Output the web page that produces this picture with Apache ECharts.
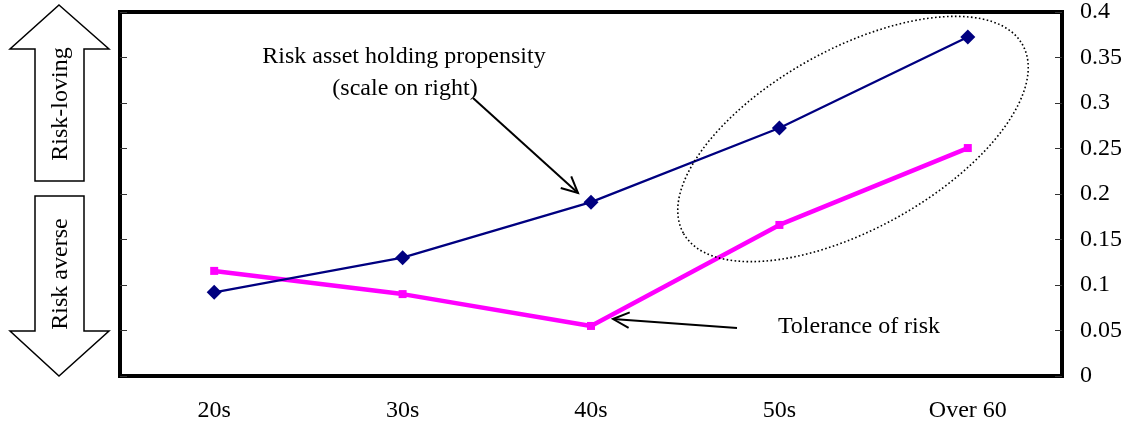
<!DOCTYPE html>
<html>
<head>
<meta charset="utf-8">
<script src="https://cdn.jsdelivr.net/npm/echarts@6/dist/echarts.min.js"></script>
<style>
html,body{margin:0;padding:0;background:#fff;}
#chart{width:1129px;height:428px;}
</style>
</head>
<body>
<div id="chart"></div>
<script>
const categories = ['20s', '30s', '40s', '50s', 'Over 60'];
const riskAssetPropensity = [0.092, 0.130, 0.191, 0.2725, 0.3725];
const toleranceOfRisk = [0.1155, 0.090, 0.055, 0.166, 0.2505];
const yTicks = [0, 0.05, 0.1, 0.15, 0.2, 0.25, 0.3, 0.35, 0.4];

const FONT = '"Liberation Serif", "Times New Roman", serif';
const FS = 24;

function arrow(x1, y1, x2, y2, len, ang) {
  const a = Math.atan2(y2 - y1, x2 - x1);
  const p1 = [x2 - len * Math.cos(a - ang), y2 - len * Math.sin(a - ang)];
  const p2 = [x2 - len * Math.cos(a + ang), y2 - len * Math.sin(a + ang)];
  return [
    { type: 'line', shape: { x1: x1, y1: y1, x2: x2, y2: y2 }, style: { stroke: '#000', lineWidth: 2 } },
    { type: 'polyline', shape: { points: [p1, [x2, y2], p2] }, style: { stroke: '#000', lineWidth: 2, fill: null } }
  ];
}

const chart = echarts.init(document.getElementById('chart'), null, { renderer: 'canvas' });

const yAxisCommon = {
  type: 'value',
  min: yTicks[0],
  max: yTicks[yTicks.length - 1],
  interval: 0.05,
  splitLine: { show: false },
  axisLine: { show: false },
  axisTick: { show: true, inside: true, length: 7, lineStyle: { color: '#333', width: 1 } }
};

const option = {
  backgroundColor: '#fff',
  animation: false,
  grid: {
    left: 120, right: 67, top: 12, bottom: 52,
    show: true, borderColor: '#000', borderWidth: 4, backgroundColor: 'transparent'
  },
  xAxis: {
    type: 'category',
    data: categories,
    boundaryGap: true,
    axisLine: { show: false },
    axisTick: { show: false },
    axisLabel: { margin: 23, color: '#000', fontFamily: FONT, fontSize: FS }
  },
  yAxis: [
    Object.assign({}, yAxisCommon, { position: 'left', axisLabel: { show: false } }),
    Object.assign({}, yAxisCommon, {
      position: 'right',
      axisLabel: {
        show: true, margin: 18, color: '#000', fontFamily: FONT, fontSize: FS,
        formatter: function (v) { return String(parseFloat(v.toFixed(2))); }
      }
    })
  ],
  series: [
    {
      name: 'Risk asset holding propensity',
      type: 'line',
      yAxisIndex: 1,
      data: riskAssetPropensity,
      symbol: 'diamond',
      symbolSize: 15,
      lineStyle: { color: '#000080', width: 2.3 },
      itemStyle: { color: '#000080' },
      z: 3
    },
    {
      name: 'Tolerance of risk',
      type: 'line',
      yAxisIndex: 1,
      data: toleranceOfRisk,
      symbol: 'rect',
      symbolSize: 8,
      lineStyle: { color: '#FF00FF', width: 4.5 },
      itemStyle: { color: '#FF00FF' },
      z: 2
    }
  ],
  graphic: [
    { type: 'polygon', shape: { points: [[59,5],[109,49],[84,49],[84,181],[35,181],[35,49],[10,49]] },
      style: { fill: '#fff', stroke: '#000', lineWidth: 1.5 } },
    { type: 'polygon', shape: { points: [[35,196],[84,196],[84,331],[109,331],[59,376],[10,331],[35,331]] },
      style: { fill: '#fff', stroke: '#000', lineWidth: 1.5 } },
    { type: 'text', x: 61, y: 104, rotation: Math.PI / 2,
      style: { text: 'Risk-loving', font: FS + 'px ' + FONT, fill: '#000', align: 'center', verticalAlign: 'middle' } },
    { type: 'text', x: 61, y: 274, rotation: Math.PI / 2,
      style: { text: 'Risk averse', font: FS + 'px ' + FONT, fill: '#000', align: 'center', verticalAlign: 'middle' } },
    { type: 'text', x: 404, y: 57,
      style: { text: 'Risk asset holding propensity', font: FS + 'px ' + FONT, fill: '#000', align: 'center', verticalAlign: 'middle' } },
    { type: 'text', x: 405, y: 89,
      style: { text: '(scale on right)', font: FS + 'px ' + FONT, fill: '#000', align: 'center', verticalAlign: 'middle' } },
    { type: 'text', x: 859, y: 327,
      style: { text: 'Tolerance of risk', font: FS + 'px ' + FONT, fill: '#000', align: 'center', verticalAlign: 'middle' } },
    ...arrow(473, 98, 578, 193, 18, 0.45),
    ...arrow(737, 328, 613, 319, 18, 0.45),
    { type: 'ellipse', x: 853, y: 139, rotation: 29 * Math.PI / 180,
      shape: { cx: 0, cy: 0, rx: 194, ry: 90 },
      style: { fill: null, stroke: '#000', lineWidth: 1.6, lineDash: [1.6, 2.4] }, z: 10 }
  ]
};

chart.setOption(option);
</script>
</body>
</html>
